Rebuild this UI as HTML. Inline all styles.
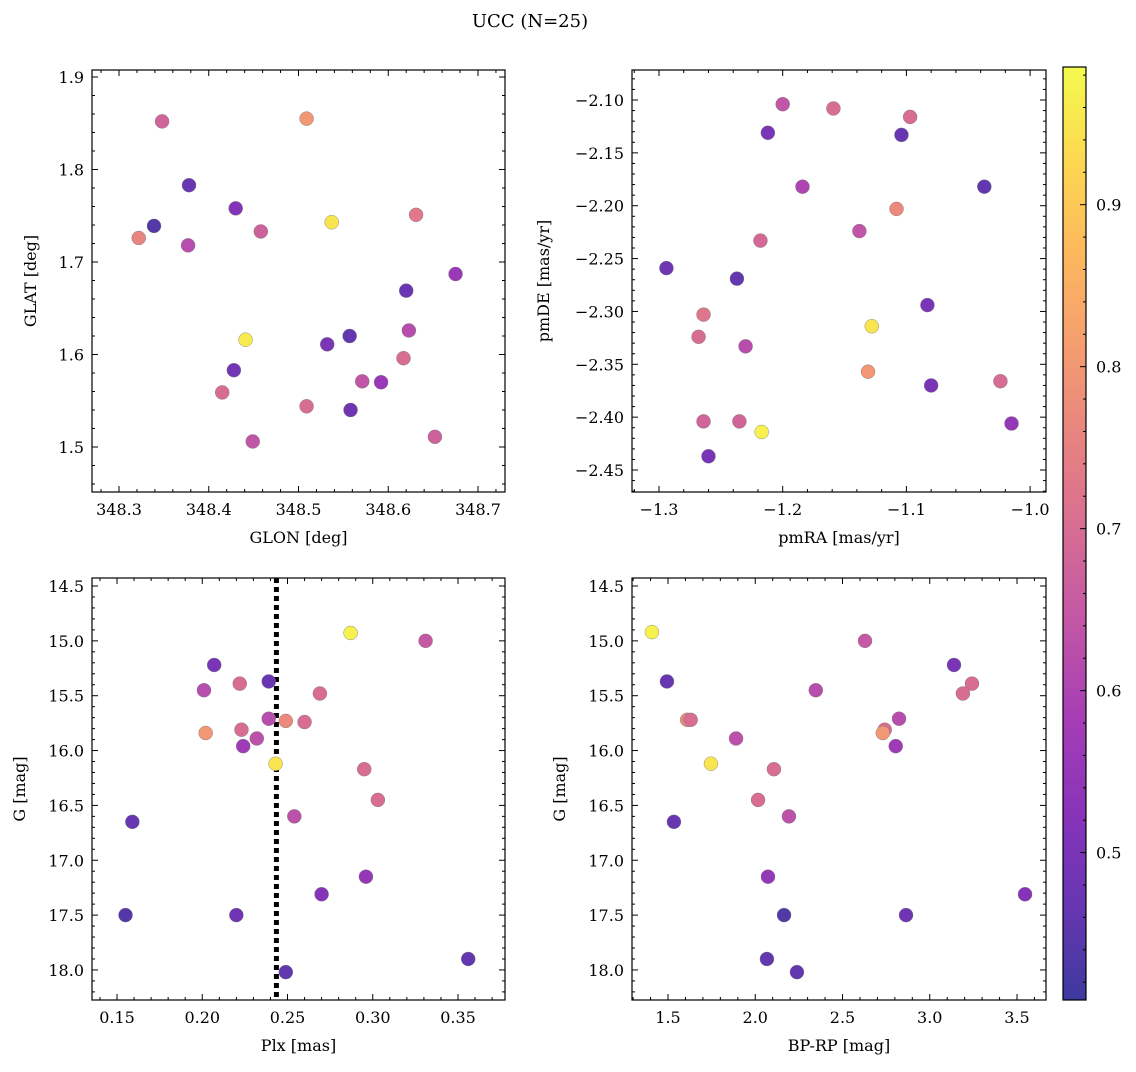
<!DOCTYPE html>
<html><head><meta charset="utf-8"><style>
body{margin:0;background:#fff;}
svg text{font-family:"DejaVu Serif","Liberation Serif",serif;fill:#000;}
</style></head><body>
<svg id="fig" width="1136" height="1067" viewBox="0 0 1136 1067" xmlns="http://www.w3.org/2000/svg">
<text x="530" y="27" font-size="18" text-anchor="middle">UCC (N=25)</text>
</svg>
<script>
// Panel 1: GLON / GLAT
const glonX=[348.348,348.509,348.378,348.430,348.339,348.322,348.377,348.458,348.537,348.631,348.675,348.620,348.441,348.557,348.532,348.623,348.428,348.617,348.571,348.592,348.415,348.509,348.558,348.449,348.652];
const glatY=[1.852,1.855,1.783,1.758,1.739,1.726,1.718,1.733,1.743,1.751,1.687,1.669,1.616,1.620,1.611,1.626,1.583,1.596,1.571,1.570,1.559,1.544,1.540,1.506,1.511];
const glonC=[0.68,0.80,0.47,0.52,0.44,0.76,0.62,0.67,0.95,0.73,0.56,0.47,0.96,0.46,0.50,0.62,0.49,0.70,0.64,0.56,0.70,0.70,0.48,0.64,0.67];
// Panel 2: pmRA / pmDE
const pmraX=[-1.200,-1.159,-1.097,-1.212,-1.104,-1.184,-1.037,-1.108,-1.138,-1.218,-1.294,-1.237,-1.083,-1.264,-1.128,-1.268,-1.230,-1.131,-1.080,-1.024,-1.264,-1.235,-1.015,-1.217,-1.260];
const pmdeY=[-2.104,-2.108,-2.116,-2.131,-2.133,-2.182,-2.182,-2.203,-2.224,-2.233,-2.259,-2.269,-2.294,-2.303,-2.314,-2.324,-2.333,-2.357,-2.370,-2.366,-2.404,-2.404,-2.406,-2.414,-2.437];
const pmC=[0.64,0.70,0.70,0.50,0.47,0.60,0.46,0.77,0.64,0.69,0.48,0.46,0.50,0.72,0.95,0.70,0.62,0.80,0.50,0.70,0.68,0.68,0.55,0.97,0.50];
// Panel 3: Plx / G
const plxX=[0.287,0.331,0.207,0.201,0.222,0.239,0.269,0.239,0.223,0.249,0.260,0.202,0.232,0.224,0.243,0.295,0.303,0.254,0.159,0.296,0.270,0.155,0.220,0.356,0.249];
const plxG=[14.928,15.0,15.22,15.45,15.39,15.37,15.48,15.71,15.81,15.73,15.74,15.84,15.89,15.96,16.12,16.17,16.45,16.60,16.65,17.15,17.31,17.50,17.50,17.90,18.02];
const plxC=[0.97,0.65,0.50,0.62,0.70,0.47,0.70,0.62,0.70,0.77,0.70,0.80,0.63,0.57,0.95,0.70,0.70,0.63,0.47,0.55,0.52,0.44,0.48,0.46,0.46];
const plxLine=0.2435;
// Panel 4: BP-RP / G
const bprpX=[1.408,2.629,3.139,1.494,3.242,3.190,2.347,1.61,1.63,2.824,2.742,2.731,2.805,1.890,1.746,2.107,2.016,2.193,1.534,2.073,3.546,2.165,2.864,2.067,2.239];
const bprpG=[14.92,15.0,15.22,15.37,15.39,15.48,15.45,15.72,15.72,15.71,15.81,15.84,15.96,15.89,16.12,16.17,16.45,16.60,16.65,17.15,17.31,17.50,17.50,17.90,18.02];
const bprpC=[0.97,0.65,0.50,0.47,0.70,0.70,0.62,0.77,0.70,0.62,0.70,0.80,0.57,0.63,0.95,0.70,0.70,0.63,0.47,0.55,0.52,0.44,0.48,0.46,0.46];
// Colorbar
const cbMin=0.409, cbMax=0.985;
const cbTicks=[0.5,0.6,0.7,0.8,0.9];

const NS="http://www.w3.org/2000/svg";
const svg=document.getElementById('fig');
function el(tag,attrs,parent){const e=document.createElementNS(NS,tag);for(const k in attrs)e.setAttribute(k,attrs[k]);(parent||svg).appendChild(e);return e;}
const stops=[[13,8,135],[65,4,157],[106,0,168],[143,13,164],[177,42,144],[204,71,120],[225,100,98],[242,132,75],[252,166,54],[252,206,37],[240,249,33]];
function plasma(t){t=Math.max(0,Math.min(1,t))*10;const i=Math.min(9,Math.floor(t)),f=t-i;const a=stops[i],b=stops[i+1];
 const c=a.map((v,k)=>v+(b[k]-v)*f);const al=0.8;return 'rgb('+c.map(v=>Math.round(v*al+255*(1-al))).join(',')+')';}
function cnorm(v){return (v-cbMin)/(cbMax-cbMin);}
const TF=16;
function panel(o){
 const g=el('g',{});
 
 
 const sx=v=>o.x0+(v-o.xa)/(o.xb-o.xa)*(o.x1-o.x0);
 const sy=v=>o.y0+(v-o.ya)/(o.yb-o.ya)*(o.y1-o.y0);
 if(o.vline!==undefined){const l=el('line',{x1:sx(o.vline),x2:sx(o.vline),y1:o.y0,y2:o.y1,stroke:'#000','stroke-width':5,'stroke-dasharray':'5,4'},g);
  }
 for(let i=0;i<o.xs.length;i++){
  const c=el('circle',{cx:sx(o.xs[i]),cy:sy(o.ys[i]),r:7,fill:plasma(cnorm(o.cs[i])),stroke:'#777','stroke-width':0.4},g);
  
 }
 const fr=el('rect',{x:o.x0,y:o.y0,width:o.x1-o.x0,height:o.y1-o.y0,fill:'none',stroke:'#000','stroke-width':1.2},g);
 
 const L=Math.min(o.x0,o.x1),R=Math.max(o.x0,o.x1),T=Math.min(o.y0,o.y1),B=Math.max(o.y0,o.y1);
 const xlo=Math.min(o.xa,o.xb),xhi=Math.max(o.xa,o.xb);
 for(let k=Math.ceil(xlo/o.xminor-1e-6);k*o.xminor<=xhi+1e-9;k++){const v=k*o.xminor,p=sx(v);
  const maj=Math.abs(v/o.xmajor-Math.round(v/o.xmajor))<1e-6;const len=maj?6:3;
  el('line',{x1:p,x2:p,y1:B,y2:B-len,stroke:'#000','stroke-width':1},g);el('line',{x1:p,x2:p,y1:T,y2:T+len,stroke:'#000','stroke-width':1},g);
  if(maj){const t=el('text',{x:p,y:B+23,'font-size':TF,'text-anchor':'middle'},g);t.textContent=(v<0?'\u2212':'')+Math.abs(v).toFixed(o.xdec);
   }}
 const ylo=Math.min(o.ya,o.yb),yhi=Math.max(o.ya,o.yb);
 for(let k=Math.ceil(ylo/o.yminor-1e-6);k*o.yminor<=yhi+1e-9;k++){const v=k*o.yminor,p=sy(v);
  const maj=Math.abs(v/o.ymajor-Math.round(v/o.ymajor))<1e-6;const len=maj?6:3;
  el('line',{x1:L,x2:L+len,y1:p,y2:p,stroke:'#000','stroke-width':1},g);el('line',{x1:R,x2:R-len,y1:p,y2:p,stroke:'#000','stroke-width':1},g);
  if(maj){const t=el('text',{x:L-8,y:p+6,'font-size':TF,'text-anchor':'end'},g);t.textContent=(v<0?'\u2212':'')+Math.abs(v).toFixed(o.ydec);
   }}
 const xt=el('text',{x:(L+R)/2,y:B+51,'font-size':16,'text-anchor':'middle'},g);xt.textContent=o.xlabel;
 
 const yx=o.ylabx,yy=(T+B)/2;const yt=el('text',{x:yx,y:yy,'font-size':16,'text-anchor':'middle',transform:'rotate(-90 '+yx+' '+yy+')'},g);yt.textContent=o.ylabel;
 
}
panel({name:'glon-glat-panel',xs:glonX,ys:glatY,cs:glonC,x0:92,x1:505,xa:348.3-27/897.5,xb:348.3+386/897.5,y0:70,y1:492,ya:1.9+7/925,yb:1.9-415/925,xmajor:0.1,xminor:0.02,ymajor:0.1,yminor:0.02,xdec:1,ydec:1,xlabel:'GLON [deg]',ylabel:'GLAT [deg]',ylabx:36});
panel({name:'pmra-pmde-panel',xs:pmraX,ys:pmdeY,cs:pmC,x0:632,x1:1046,xa:-1.3-27/1237,xb:-1.3+387/1237,y0:70,y1:492,ya:-2.10+30/1057.2,yb:-2.10-392/1057.2,xmajor:0.1,xminor:0.02,ymajor:0.05,yminor:0.01,xdec:1,ydec:2,xlabel:'pmRA [mas/yr]',ylabel:'pmDE [mas/yr]',ylabx:549});
panel({name:'plx-g-panel',xs:plxX,ys:plxG,cs:plxC,vline:plxLine,x0:92,x1:505,xa:0.15-25/1705,xb:0.15+388/1705,y0:578,y1:1000,ya:14.5-8/109.7,yb:14.5+414/109.7,xmajor:0.05,xminor:0.01,ymajor:0.5,yminor:0.1,xdec:2,ydec:1,xlabel:'Plx [mas]',ylabel:'G [mag]',ylabx:25});
panel({name:'bprp-g-panel',xs:bprpX,ys:bprpG,cs:bprpC,x0:632,x1:1046,xa:1.5-36/174.5,xb:1.5+378/174.5,y0:578,y1:1000,ya:14.5-8/109.7,yb:14.5+414/109.7,xmajor:0.5,xminor:0.1,ymajor:0.5,yminor:0.1,xdec:1,ydec:1,xlabel:'BP-RP [mag]',ylabel:'G [mag]',ylabx:565});

(function(){
 const cx=1063,cw=23,ct=67,cb=1000;
 const g=el('g',{});
 
 
 const defs=el('defs',{},g);const lg=el('linearGradient',{id:'cbg',x1:0,y1:1,x2:0,y2:0},defs);
 for(let i=0;i<=20;i++){const t=i/20;el('stop',{offset:t,'stop-color':plasma(t)},lg);}
 el('rect',{x:cx,y:ct,width:cw,height:cb-ct,fill:'url(#cbg)',stroke:'#000','stroke-width':1.2},g);
 const sy=v=>cb-(v-cbMin)/(cbMax-cbMin)*(cb-ct);
 for(let k=Math.ceil(cbMin/0.02);k*0.02<=cbMax;k++){const v=k*0.02,p=sy(v);const maj=Math.abs(v*10-Math.round(v*10))<1e-6;
  el('line',{x1:cx+cw,x2:cx+cw-(maj?6:3),y1:p,y2:p,stroke:'#000','stroke-width':1},g);}
 for(const v of cbTicks){const t=el('text',{x:cx+cw+10,y:sy(v)+6,'font-size':TF},g);t.textContent=v.toFixed(1);
  }
})();
</script>
</body></html>
